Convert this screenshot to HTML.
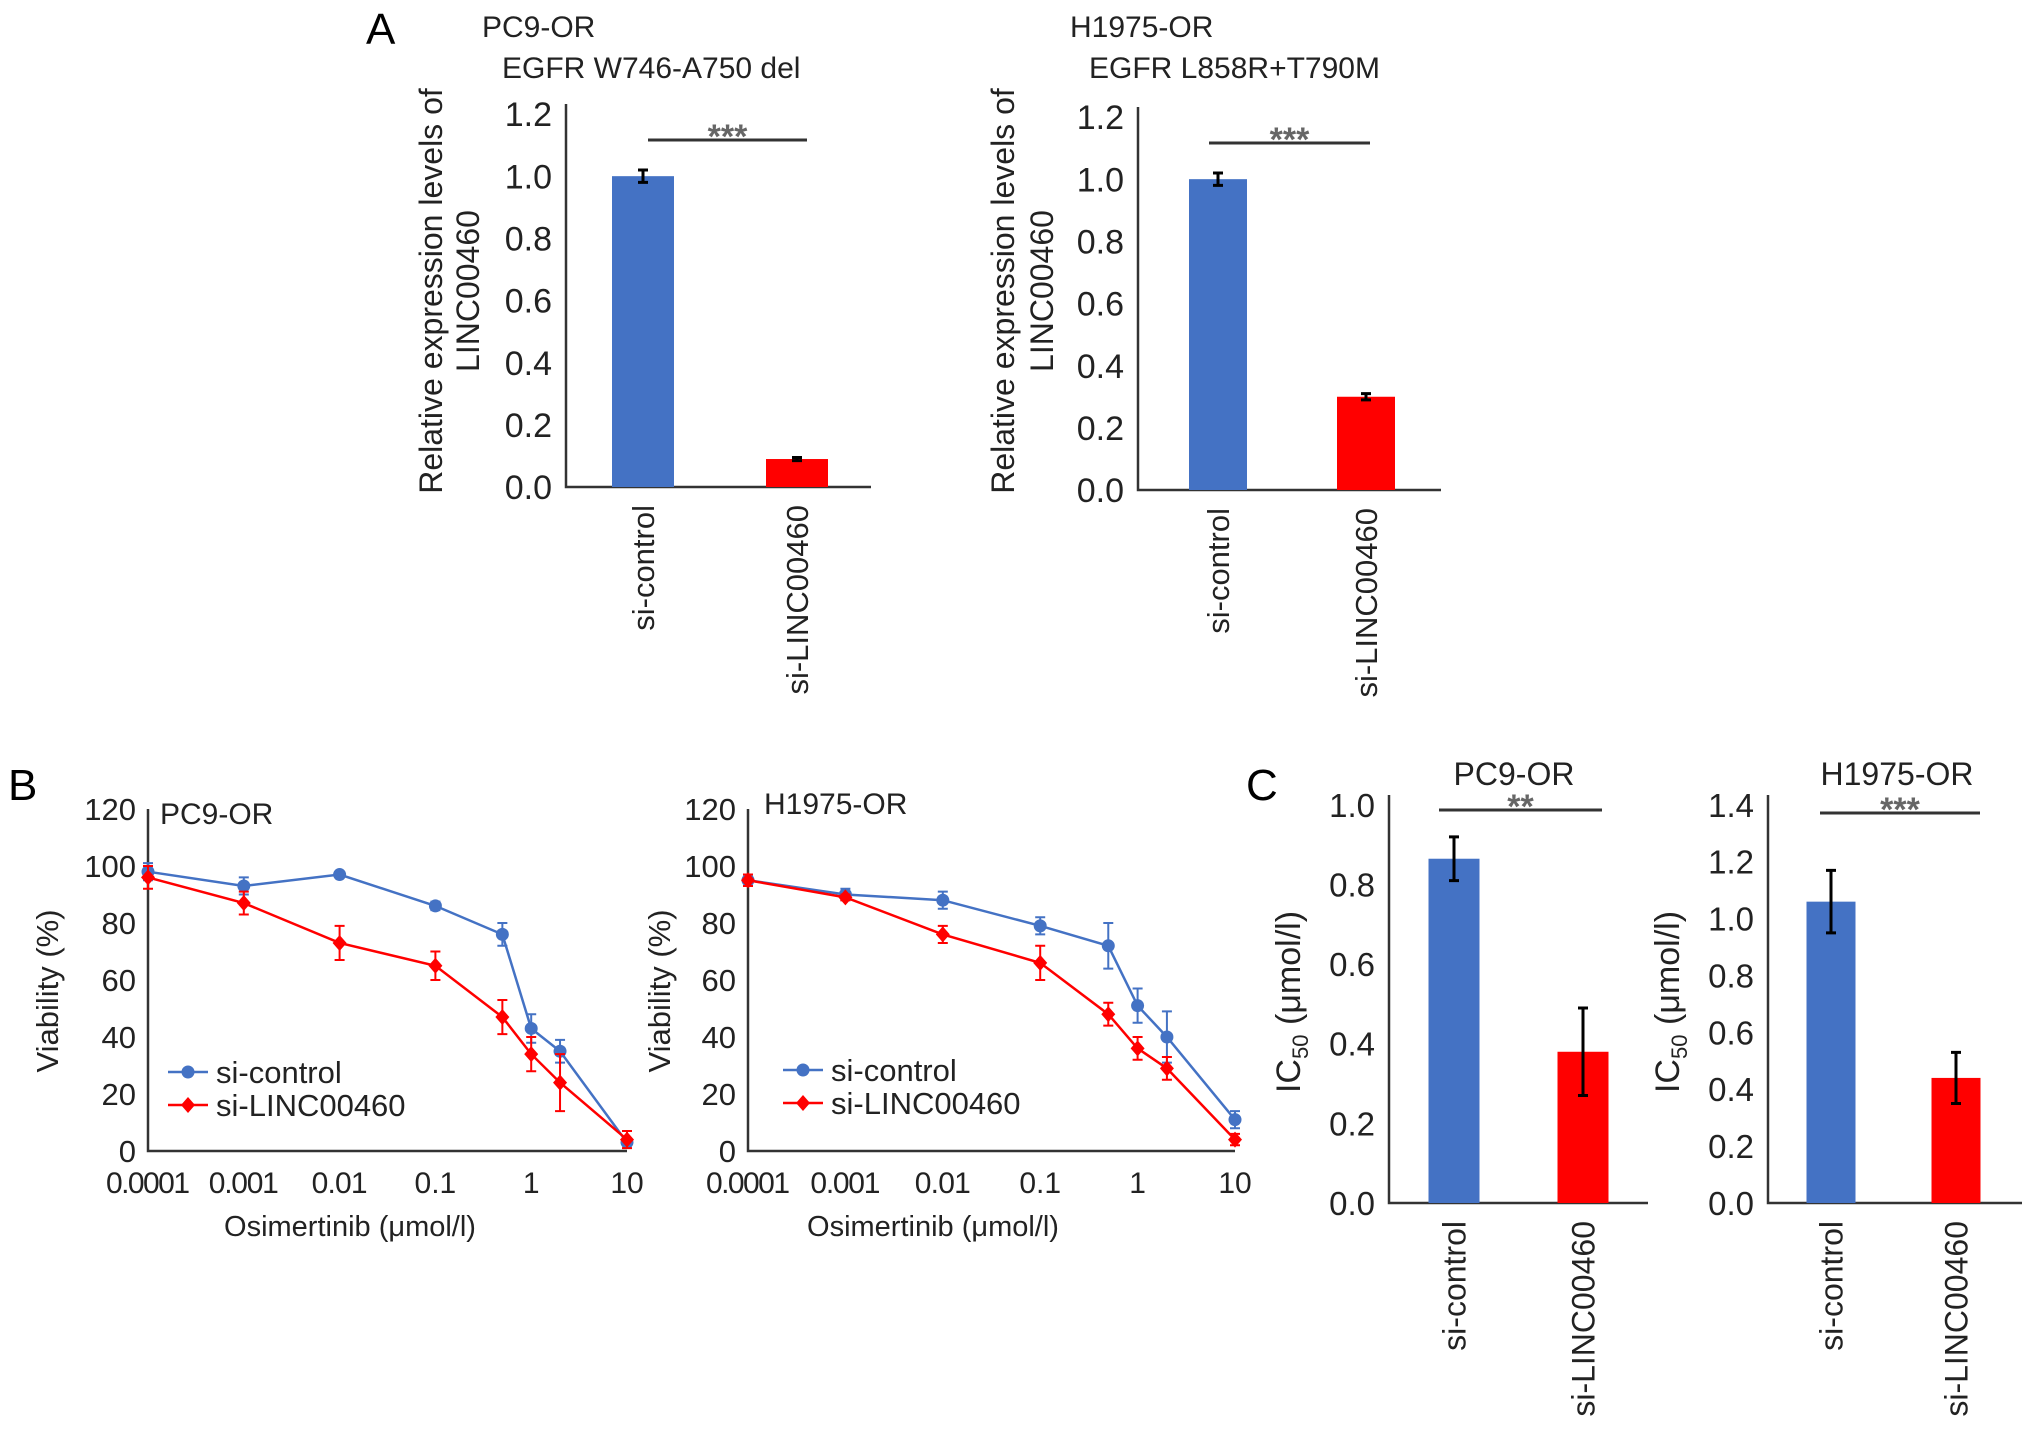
<!DOCTYPE html>
<html><head><meta charset="utf-8"><style>
html,body{margin:0;padding:0;background:#fff}
svg{display:block;font-family:"Liberation Sans",sans-serif}
</style></head><body>
<svg id="fig" xmlns="http://www.w3.org/2000/svg" width="2032" height="1437" viewBox="0 0 2032 1437">
<text x="366" y="44" font-size="44">A</text>
<text x="8" y="800" font-size="44">B</text>
<text x="1246" y="800" font-size="44">C</text>
</svg>
<script>
const barCats = ["si-control","si-LINC00460"];
const aPC9Vals = [1.0, 0.09];
const aPC9Err = [0.02, 0.005];
const aH1975Vals = [1.0, 0.30];
const aH1975Err = [0.02, 0.01];
const aTicks = ["0.0","0.2","0.4","0.6","0.8","1.0","1.2"];
const cPC9Vals = [0.865, 0.38];
const cPC9Err = [0.055, 0.11];
const cH1975Vals = [1.06, 0.44];
const cH1975Err = [0.11, 0.09];
const cPC9Ticks = ["0.0","0.2","0.4","0.6","0.8","1.0"];
const cH1975Ticks = ["0.0","0.2","0.4","0.6","0.8","1.0","1.2","1.4"];
const doses = [0.0001,0.001,0.01,0.1,0.5,1,2,10];
const doseTicks = ["0.0001","0.001","0.01","0.1","1","10"];
const doseTickVals = [0.0001,0.001,0.01,0.1,1,10];
const vTicks = ["0","20","40","60","80","100","120"];
const bPC9Ctrl = [98,93,97,86,76,43,35,3];
const bPC9CtrlErr = [3,3,1,1.5,4,5,4,1];
const bPC9Si = [96,87,73,65,47,34,24,4];
const bPC9SiErr = [4,4,6,5,6,6,10,3];
const bH1975Ctrl = [95,90,88,79,72,51,40,11];
const bH1975CtrlErr = [2,2,3,3,8,6,9,3];
const bH1975Si = [95,89,76,66,48,36,29,4];
const bH1975SiErr = [2,1,3,6,4,4,4,2];

const NS="http://www.w3.org/2000/svg";
const svg=document.getElementById('fig');
function mk(tag,attrs,parent,text){const e=document.createElementNS(NS,tag);for(const k in attrs)e.setAttribute(k,attrs[k]);if(text!==undefined)e.textContent=text;(parent||svg).appendChild(e);return e;}
const BLUE="#4472c4", RED="#ff0000";

function barChart(o){
  const g=mk('g',{});
  
  
  const maxV=parseFloat(o.ticks[o.ticks.length-1]);
  const y=v=>o.y0-(v/maxV)*(o.y0-o.yTop);
  const ax=mk('path',{d:`M${o.x0} ${o.yTop-10}V${o.y0}H${o.xEnd}`,fill:'none',stroke:'#333','stroke-width':2.5},g);
  
  
  o.ticks.forEach((t,i)=>{
    const tl=mk('text',{x:o.x0-14,y:y(parseFloat(t))+o.fs*0.36,'font-size':o.fs,'text-anchor':'end',fill:'#222'},g,t);
    
    
  });
  o.vals.forEach((v,i)=>{
    const cx=o.cx[i];
    const r=mk('rect',{x:cx-o.bw/2,y:y(v),width:o.bw,height:o.y0-y(v),fill:i?RED:BLUE},g);
    
    
    const e=o.err[i];
    const eb=mk('path',{d:`M${cx} ${y(v+e)}V${y(v-e)}M${cx-5} ${y(v+e)}h10M${cx-5} ${y(v-e)}h10`,stroke:'#000','stroke-width':3,fill:'none'},g);
    
    
    const xl=mk('text',{transform:`translate(${cx+o.xfs*0.36},${o.y0+18}) rotate(-90)`,'font-size':o.xfs,'text-anchor':'end',fill:'#222'},g,barCats[i]);
    
    
  });
  const sl=mk('line',{x1:o.sig[0],x2:o.sig[1],y1:o.sig[2],y2:o.sig[2],stroke:'#333','stroke-width':3},g);
  
  
  const st=mk('text',{x:(o.sig[0]+o.sig[1])/2,y:o.sig[2]+8,'font-size':34,'font-weight':'bold','text-anchor':'middle',fill:'#666'},g,o.stars);
  
  
  o.ylab.forEach((l,i)=>{
    const t=mk('text',{transform:`translate(${l[0]},${l[1]}) rotate(-90)`,'font-size':o.yfs,'text-anchor':'middle',fill:'#222'},g);
    
    
    if(l[2]==='IC'){mk('tspan',{},t,'IC');mk('tspan',{'font-size':o.yfs*0.65,dy:8},t,'50');mk('tspan',{dy:-8},t,' (\u03bcmol/l)');}
    else t.textContent=l[2];
  });
  o.titles.forEach(tt=>{
    const t=mk('text',{x:tt[0],y:tt[1],'font-size':tt[3]||30,'text-anchor':tt[4]||'start',fill:'#222'},g,tt[2]);
    
    
  });
}

barChart({name:'chart-a-pc9',x0:566,xEnd:871,yTop:114,y0:487,ticks:aTicks,vals:aPC9Vals,err:aPC9Err,cx:[643,797],bw:62,fs:34,xfs:31,yfs:32,
 sig:[648,807,140],stars:'***',ylab:[[442,291,'Relative expression levels of'],[479,291,'LINC00460']],
 titles:[[482,37,'PC9-OR'],[502,78,'EGFR W746-A750 del']]});
barChart({name:'chart-a-h1975',x0:1138,xEnd:1441,yTop:117,y0:490,ticks:aTicks,vals:aH1975Vals,err:aH1975Err,cx:[1218,1366],bw:58,fs:34,xfs:31,yfs:32,
 sig:[1209,1370,143],stars:'***',ylab:[[1014,291,'Relative expression levels of'],[1053,291,'LINC00460']],
 titles:[[1070,37,'H1975-OR'],[1089,78,'EGFR L858R+T790M']]});
barChart({name:'chart-c-pc9',x0:1389,xEnd:1648,yTop:805,y0:1203,ticks:cPC9Ticks,vals:cPC9Vals,err:cPC9Err,cx:[1454,1583],bw:51,fs:33,xfs:32,yfs:34,
 sig:[1439,1602,810],stars:'**',ylab:[[1300,1002,'IC']],
 titles:[[1514,785,'PC9-OR',32,'middle']]});
barChart({name:'chart-c-h1975',x0:1768,xEnd:2022,yTop:805,y0:1203,ticks:cH1975Ticks,vals:cH1975Vals,err:cH1975Err,cx:[1831,1956],bw:49,fs:33,xfs:32,yfs:34,
 sig:[1820,1980,813],stars:'***',ylab:[[1679,1002,'IC']],
 titles:[[1897,785,'H1975-OR',32,'middle']]});

function lineChart(o){
  const g=mk('g',{});
  
  
  const x=d=>o.x0+(Math.log10(d)+4)*(o.xEnd-o.x0)/5;
  const y=v=>o.y0-v/120*(o.y0-o.yTop);
  const ax=mk('path',{d:`M${o.x0} ${o.yTop}V${o.y0}H${o.xEnd}`,fill:'none',stroke:'#333','stroke-width':2.5},g);
  
  
  vTicks.forEach(t=>{
    const tl=mk('text',{x:o.x0-12,y:y(+t)+11,'font-size':31,'text-anchor':'end',fill:'#222'},g,t);
    
    
  });
  doseTicks.forEach((t,i)=>{
    const tl=mk('text',{x:x(doseTickVals[i]),y:o.y0+42,'font-size':30,'text-anchor':'middle',fill:'#222'},g,t);
    if(t.length>3)tl.setAttribute('textLength',t.length*14);
    
    
  });
  const xt=mk('text',{x:o.xt,y:1236,'font-size':29,'text-anchor':'middle',fill:'#222'},g,'Osimertinib (\u03bcmol/l)');
  
  
  const yt=mk('text',{transform:`translate(${o.yl},991) rotate(-90)`,'font-size':31,'text-anchor':'middle',fill:'#222'},g,'Viability (%)');
  
  
  const tt=mk('text',{x:o.tx,y:o.ty,'font-size':30,fill:'#222'},g,o.title);
  
  
  [[o.s1,o.e1,BLUE,'si-control'],[o.s2,o.e2,RED,'si-LINC00460']].forEach((s,si)=>{
    const pts=s[0].map((v,i)=>[x(doses[i]),y(v)]);
    const pl=mk('polyline',{points:pts.map(p=>p.join(',')).join(' '),fill:'none',stroke:s[2],'stroke-width':2.5},g);
    
    
    s[0].forEach((v,i)=>{
      const cx=x(doses[i]),e=s[1][i];
      const eb=mk('path',{d:`M${cx} ${y(v+e)}V${y(v-e)}M${cx-5} ${y(v+e)}h10M${cx-5} ${y(v-e)}h10`,stroke:s[2],'stroke-width':2,fill:'none'},g);
      
      
      const m=si===0?mk('circle',{cx:cx,cy:y(v),r:6.5,fill:s[2]},g):mk('path',{d:`M${cx} ${y(v)-8}l7 8l-7 8l-7 -8z`,fill:s[2]},g);
      
      
    });
    const ly=o.ly+si*33;
    const le=mk('g',{},g);
    
    
    mk('line',{x1:o.lx-20,x2:o.lx+20,y1:ly,y2:ly,stroke:s[2],'stroke-width':2.5},le);
    if(si===0)mk('circle',{cx:o.lx,cy:ly,r:6.5,fill:s[2]},le);else mk('path',{d:`M${o.lx} ${ly-8}l7 8l-7 8l-7 -8z`,fill:s[2]},le);
    mk('text',{x:o.lx+28,y:ly+11,'font-size':31,fill:'#222'},le,s[3]);
  });
}
lineChart({name:'chart-b-pc9',x0:148,xEnd:627,yTop:809,y0:1151,s1:bPC9Ctrl,e1:bPC9CtrlErr,s2:bPC9Si,e2:bPC9SiErr,
  xt:350,yl:58,tx:160,ty:824,title:'PC9-OR',lx:188,ly:1072});
lineChart({name:'chart-b-h1975',x0:748,xEnd:1235,yTop:809,y0:1151,s1:bH1975Ctrl,e1:bH1975CtrlErr,s2:bH1975Si,e2:bH1975SiErr,
  xt:933,yl:670,tx:764,ty:814,title:'H1975-OR',lx:803,ly:1070});
</script>
</body></html>
